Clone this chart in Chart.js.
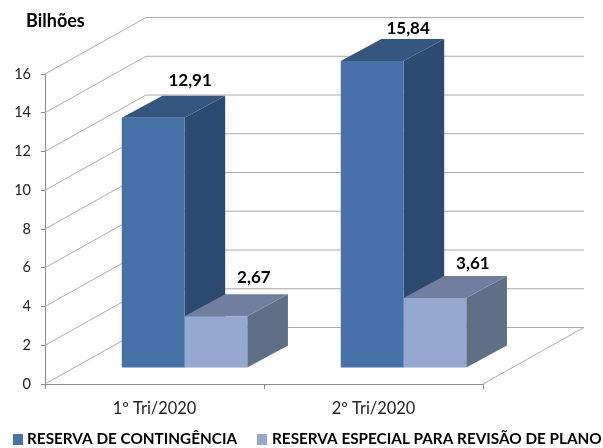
<!DOCTYPE html>
<html>
<head>
<meta charset="utf-8">
<style>html,body{margin:0;padding:0;background:#fff}#w{width:603px;height:448px}</style>
<script src="https://cdn.jsdelivr.net/npm/chart.js@4"></script>
</head>
<body>
<div id="w"><canvas id="c" width="603" height="448"></canvas></div>
<script>
const categories = ['1º Tri/2020', '2º Tri/2020'];
const contingencia = [12.91, 15.84];
const especial = [2.67, 3.61];
const seriesNames = ['RESERVA DE CONTINGÊNCIA', 'RESERVA ESPECIAL PARA REVISÃO DE PLANO'];
const unitLabel = 'Bilhões';

const FONT = 'Lato, Carlito, Calibri, sans-serif';
const faces = [
  {front:'#4672a8', side:'#2c4a70', top:'#34567f'},
  {front:'#95a9d0', side:'#5f6f88', top:'#707f9e'}
];
const wall = {dx:101, dy:-56.5};
const shift = {dx:30, dy:-16};
const depth = {dx:40.7, dy:-22};
const labelDx = [[37, 36], [38, 38]];
const labelDy = [[-37.5, -33], [-39, -35]];
const fmt = v => v.toFixed(2).replace('.', ',');

const poly = (ctx, pts, color) => {
  ctx.beginPath();
  pts.forEach((p,i)=> i ? ctx.lineTo(p[0],p[1]) : ctx.moveTo(p[0],p[1]));
  ctx.closePath();
  ctx.fillStyle = color;
  ctx.fill();
};

const box3d = {
  id:'box3d',
  beforeDatasetsDraw(chart){
    const {ctx, chartArea:a, scales:{y}} = chart;
    ctx.save();
    ctx.lineWidth = 1;
    ctx.strokeStyle = '#a9a9a9';
    y.ticks.forEach(t=>{
      const py = y.getPixelForValue(t.value);
      ctx.beginPath();
      ctx.moveTo(a.left, py);
      ctx.lineTo(a.left+wall.dx, py+wall.dy);
      ctx.lineTo(a.right+wall.dx, py+wall.dy);
      if (t.value === 0) { ctx.lineTo(a.right, py); }
      ctx.stroke();
    });
    ctx.translate(shift.dx, shift.dy);
    chart.data.datasets.forEach((ds,i)=>{
      const f = faces[i];
      chart.getDatasetMeta(i).data.forEach(el=>{
        const l = el.x-el.width/2, r = el.x+el.width/2, t = el.y, b = el.base;
        poly(ctx, [[r,t],[r+depth.dx,t+depth.dy],[r+depth.dx,b+depth.dy],[r,b]], f.side);
        poly(ctx, [[l,t],[l+depth.dx,t+depth.dy],[r+depth.dx,t+depth.dy],[r,t]], f.top);
      });
    });
    ctx.restore();
  },
  beforeDatasetDraw(chart){
    chart.ctx.save();
    chart.ctx.translate(shift.dx, shift.dy);
  },
  afterDatasetDraw(chart){ chart.ctx.restore(); },
  afterDatasetsDraw(chart){
    const {ctx} = chart;
    ctx.save();
    ctx.fillStyle = '#000';
    ctx.textAlign = 'center';
    ctx.textBaseline = 'middle';
    ctx.font = 'bold 17px '+FONT;
    chart.data.datasets.forEach((ds,i)=>{
      chart.getDatasetMeta(i).data.forEach((el,j)=>{
        ctx.fillText(fmt(ds.data[j]), el.x+shift.dx+labelDx[i][j], el.y+shift.dy+labelDy[i][j]);
      });
    });
    ctx.textAlign = 'left';
    ctx.font = 'bold 18px '+FONT;
    ctx.fillText(unitLabel, 26, 21);
    // legend
    ctx.font = 'bold 15.3px '+FONT;
    const xs = [[13,27],[257,272]];
    chart.data.datasets.forEach((ds,i)=>{
      ctx.fillStyle = ds.backgroundColor;
      ctx.fillRect(xs[i][0], 434, 10, 11);
      ctx.fillStyle = '#000';
      ctx.fillText(ds.label, xs[i][1], 439);
    });
    ctx.restore();
  }
};

new Chart(document.getElementById('c'), {
  type:'bar',
  data:{
    labels:categories,
    datasets:[
      {label:seriesNames[0], data:contingencia, backgroundColor:faces[0].front, clip:false},
      {label:seriesNames[1], data:especial, backgroundColor:faces[1].front, clip:false}
    ]
  },
  plugins:[box3d],
  options:{
    responsive:false,
    animation:false,
    layout:{padding:{top:74, right:120, left:0, bottom:0}},
    categoryPercentage:0.573,
    barPercentage:1,
    plugins:{legend:{display:false}, tooltip:{enabled:false}},
    scales:{
      x:{
        afterFit(s){ s.height = 64; },
        border:{color:'#8c8c8c'},
        grid:{drawOnChartArea:false, drawTicks:true, tickLength:5, color:'#8c8c8c'},
        ticks:{color:'#222', font:{family:FONT, size:16.4}, padding:10, maxRotation:0}
      },
      y:{
        min:0, max:16,
        afterFit(s){ s.width = 45; },
        border:{color:'#8c8c8c'},
        grid:{drawOnChartArea:false, drawTicks:true, tickLength:4, color:'#8c8c8c'},
        ticks:{stepSize:2, color:'#222', font:{family:FONT, size:14.5}, padding:10}
      }
    }
  }
});
</script>
</body>
</html>
